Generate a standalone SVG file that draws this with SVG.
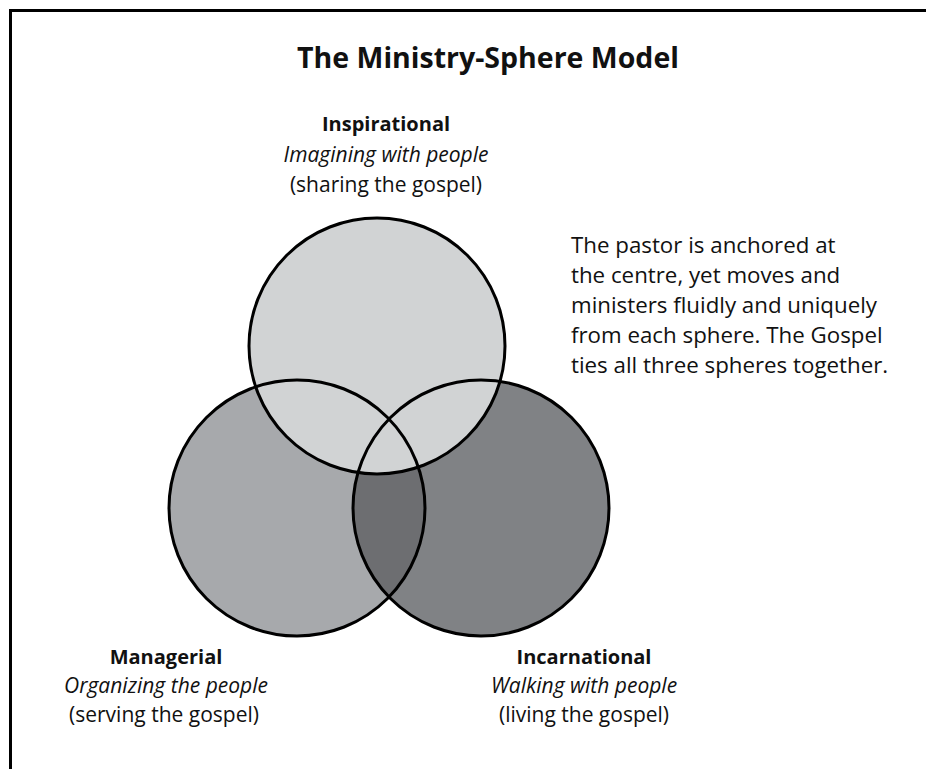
<svg xmlns="http://www.w3.org/2000/svg" width="926" height="769" viewBox="0 0 926 769">
  <style>
    text { font-family: "Open Sans", "Noto Sans", "Liberation Sans", sans-serif; fill: #111; }
    .title { font-size: 28.5px; font-weight: bold; text-anchor: middle; }
    .head { font-size: 20px; font-weight: bold; text-anchor: middle; }
    .sub { font-size: 21px; font-style: italic; text-anchor: middle; }
    .par { font-size: 21px; text-anchor: middle; }
    .note { font-size: 22.3px; }
    .ring { fill: none; stroke: #000; stroke-width: 3; }
  </style>
  <defs>
    <clipPath id="clipLeft">
      <circle cx="297" cy="508" r="128"/>
    </clipPath>
  </defs>

  <!-- frame (top and left edges only) -->
  <path d="M10.5,769 V10.5 H926" fill="none" stroke="#000" stroke-width="3"/>

  <text class="title" x="488" y="68">The Ministry-Sphere Model</text>

  <!-- sphere fills -->
  <g id="managerial">
    <circle cx="297" cy="508" r="128" fill="#a7a9ac"/>
  </g>
  <g id="incarnational">
    <circle cx="481" cy="508" r="128" fill="#808285"/>
    <circle cx="481" cy="508" r="128" fill="#6d6e71" clip-path="url(#clipLeft)"/>
  </g>
  <g id="inspirational">
    <circle cx="377" cy="346" r="128" fill="#d1d3d4"/>
  </g>

  <!-- outlines drawn over all fills -->
  <g id="outlines">
    <circle class="ring" cx="297" cy="508" r="128"/>
    <circle class="ring" cx="481" cy="508" r="128"/>
    <circle class="ring" cx="377" cy="346" r="128"/>
  </g>

  <g id="label-inspirational">
    <text class="head" x="386" y="131">Inspirational</text>
    <text class="sub" x="386" y="162">Imagining with people</text>
    <text class="par" x="386" y="192">(sharing the gospel)</text>
  </g>

  <g id="label-managerial">
    <text class="head" x="166" y="664">Managerial</text>
    <text class="sub" x="166" y="693">Organizing the people</text>
    <text class="par" x="164" y="722">(serving the gospel)</text>
  </g>

  <g id="label-incarnational">
    <text class="head" x="584" y="664">Incarnational</text>
    <text class="sub" x="584" y="693">Walking with people</text>
    <text class="par" x="584" y="722">(living the gospel)</text>
  </g>

  <g id="note">
    <text class="note" x="571" y="253">The pastor is anchored at</text>
    <text class="note" x="571" y="283">the centre, yet moves and</text>
    <text class="note" x="571" y="313">ministers fluidly and uniquely</text>
    <text class="note" x="571" y="343">from each sphere. The Gospel</text>
    <text class="note" x="571" y="373">ties all three spheres together.</text>
  </g>
</svg>
